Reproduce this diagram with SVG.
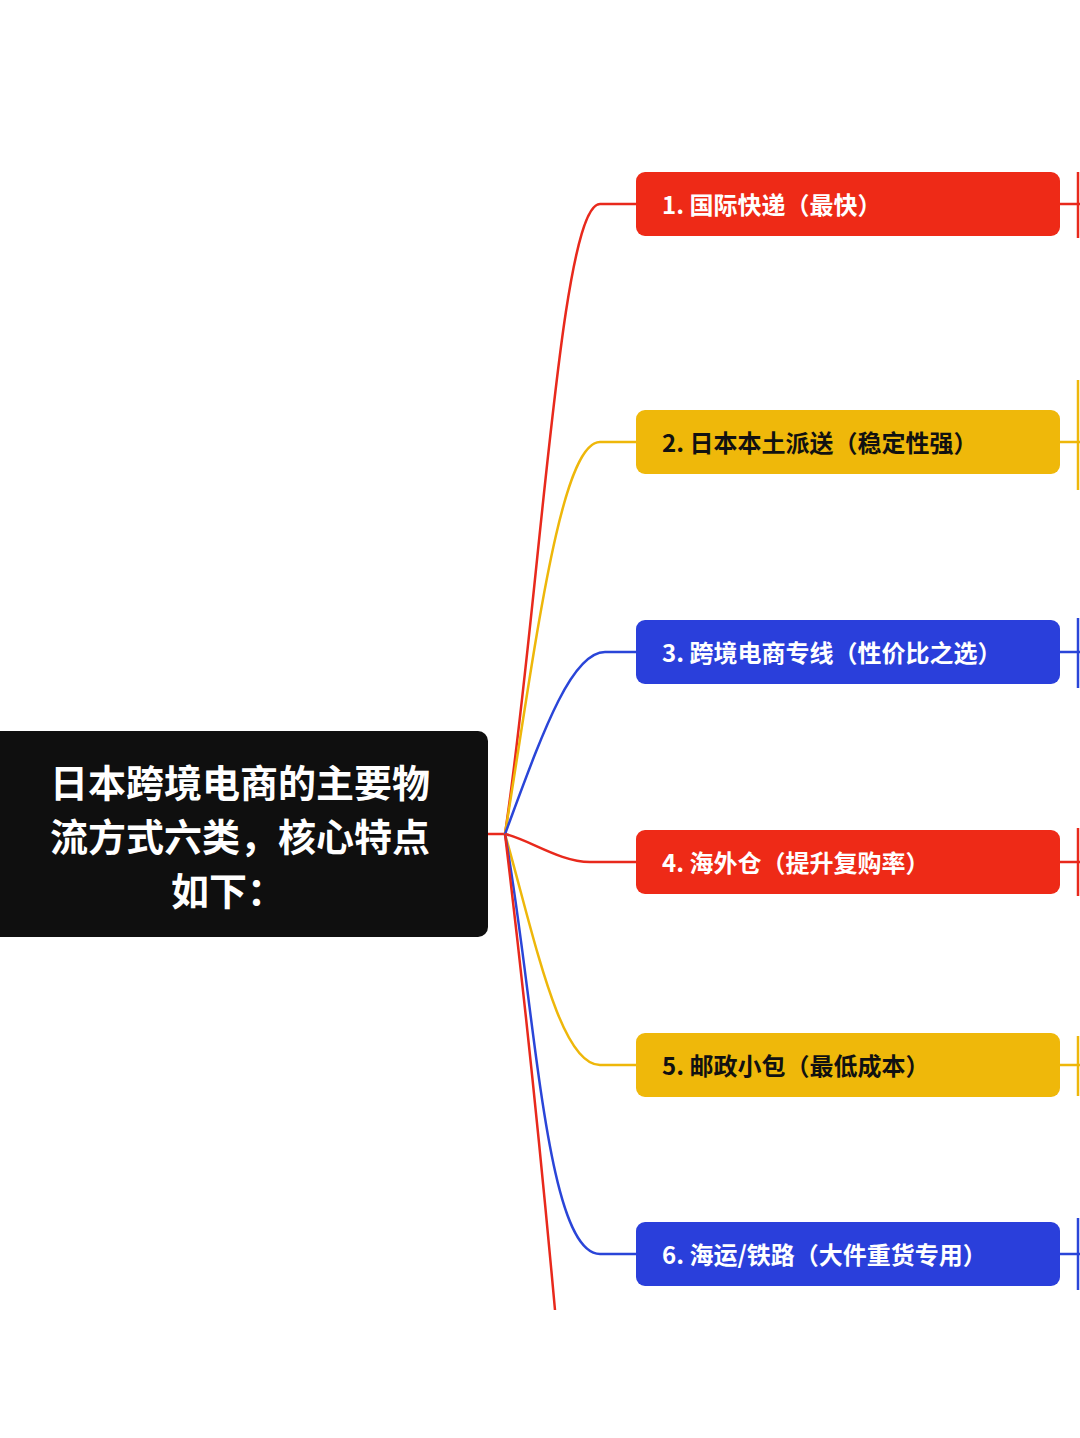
<svg xmlns="http://www.w3.org/2000/svg" width="1080" height="1438" viewBox="0 0 1080 1438">
<style>
.c{fill:none;stroke-width:2.5}
.r{stroke:#e8291c}.y{stroke:#eeb70a}.b{stroke:#2a45d8}
.t{font-family:"Noto Sans CJK SC","Noto Sans",sans-serif;font-weight:bold;font-size:24px;fill:#fff}
.t2{fill:#111}
</style>
<rect width="1080" height="1438" fill="#fff"/>
<g id="connectors">
<path class="c r" d="M488,834 H505"/>
<path class="c r" d="M505,834 C540,600 560,204 600,204 H636"/>
<path class="c y" d="M505,834 C535,650 560,442 600,442 H636"/>
<path class="c b" d="M505,834 C540,740 570,652 605,652 H636"/>
<path class="c r" d="M505,834 C530,840 560,862 590,862 H636"/>
<path class="c y" d="M505,834 C535,940 560,1065 600,1065 H636"/>
<path class="c b" d="M505,834 C535,1000 545,1254 600,1254 H636"/>
<path class="c r" d="M505,834 C525,1000 545,1200 555,1310"/>
<path class="c r" d="M1060,204 H1080"/><path class="c r" d="M1078,172 V238"/>
<path class="c y" d="M1060,442 H1080"/><path class="c y" d="M1078,380 V490"/>
<path class="c b" d="M1060,652 H1080"/><path class="c b" d="M1078,618 V688"/>
<path class="c r" d="M1060,862 H1080"/><path class="c r" d="M1078,828 V896"/>
<path class="c y" d="M1060,1065 H1080"/><path class="c y" d="M1078,1036 V1096"/>
<path class="c b" d="M1060,1254 H1080"/><path class="c b" d="M1078,1218 V1290"/>
</g>
<g id="root">
<rect x="-10" y="731" width="498" height="206" rx="10" fill="#0f0f0f"/>
<text class="t" font-size="38" text-anchor="middle" x="240" y="797" style="font-size:38px">日本跨境电商的主要物</text>
<text class="t" text-anchor="middle" x="240" y="851" style="font-size:38px">流方式六类，核心特点</text>
<text class="t" text-anchor="middle" x="228" y="905" style="font-size:38px">如下：</text>
</g>
<g id="n1"><rect x="636" y="172" width="424" height="64" rx="9" fill="#ee2a17"/><text class="t" x="662" y="214">1. 国际快递（最快）</text></g>
<g id="n2"><rect x="636" y="410" width="424" height="64" rx="9" fill="#efb80a"/><text class="t t2" x="662" y="452">2. 日本本土派送（稳定性强）</text></g>
<g id="n3"><rect x="636" y="620" width="424" height="64" rx="9" fill="#2a3fdb"/><text class="t" x="662" y="662">3. 跨境电商专线（性价比之选）</text></g>
<g id="n4"><rect x="636" y="830" width="424" height="64" rx="9" fill="#ee2a17"/><text class="t" x="662" y="872">4. 海外仓（提升复购率）</text></g>
<g id="n5"><rect x="636" y="1033" width="424" height="64" rx="9" fill="#efb80a"/><text class="t t2" x="662" y="1075">5. 邮政小包（最低成本）</text></g>
<g id="n6"><rect x="636" y="1222" width="424" height="64" rx="9" fill="#2a3fdb"/><text class="t" x="662" y="1264">6. 海运/铁路（大件重货专用）</text></g>
</svg>
